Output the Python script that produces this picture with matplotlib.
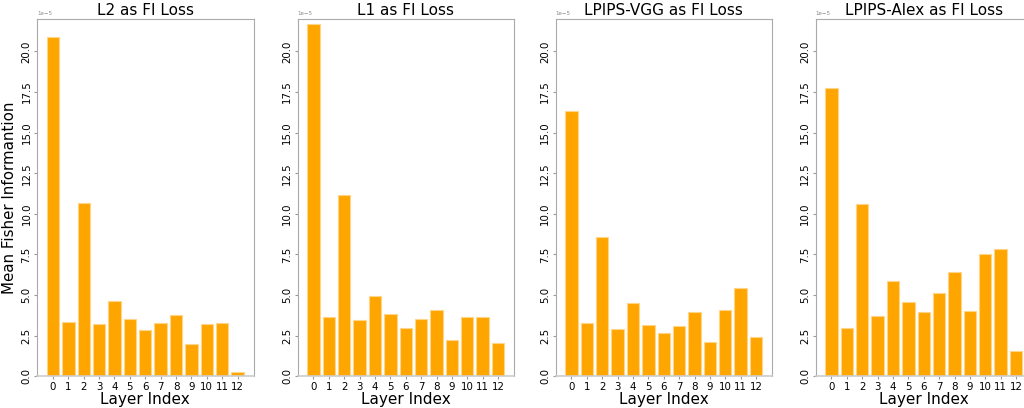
import numpy as np
import matplotlib
matplotlib.use("Agg")
import matplotlib.pyplot as plt

# 各层平均 Fisher 信息 (单位 1e-5)
layers = list(range(13))
titles = ["L2 as FI Loss", "L1 as FI Loss", "LPIPS-VGG as FI Loss", "LPIPS-Alex as FI Loss"]
fi_l2 = [20.88, 3.36, 10.68, 3.22, 4.66, 3.55, 2.87, 3.26, 3.78, 1.99, 3.20, 3.28, 0.27]
fi_l1 = [21.72, 3.65, 11.16, 3.45, 4.94, 3.84, 2.97, 3.53, 4.08, 2.24, 3.65, 3.67, 2.07]
fi_vgg = [16.31, 3.30, 8.55, 2.89, 4.51, 3.16, 2.69, 3.12, 3.98, 2.09, 4.06, 5.42, 2.42]
fi_alex = [17.74, 2.99, 10.63, 3.73, 5.85, 4.55, 3.98, 5.11, 6.42, 4.04, 7.55, 7.86, 1.56]
series = [fi_l2, fi_l1, fi_vgg, fi_alex]

fig = plt.figure(figsize=(10.24, 4.08), dpi=100)
W, H = 1024, 408
lefts = [37, 297.5, 555.5, 815.5]
ax_w = 216.5
top_px, bot_px = 19, 376.3

for i, (vals, title) in enumerate(zip(series, titles)):
    ax = fig.add_axes([lefts[i] / W, 1 - bot_px / H, ax_w / W, (bot_px - top_px) / H])
    ax.bar(layers, np.array(vals) * 1e-5, width=0.8, color="orange",
           edgecolor="#ffd58a", linewidth=0.8)
    ax.set_ylim(0, 22.0e-5)
    ax.set_xticks(layers)
    ax.set_xticklabels([str(l) for l in layers])
    ax.ticklabel_format(axis="y", style="sci", scilimits=(-5, -5))
    ax.set_title(title, fontsize=11, pad=3)
    ax.set_xlabel("Layer Index", fontsize=11, labelpad=0)
    if i == 0:
        ax.set_ylabel("Mean Fisher Informantion", fontsize=10.8, labelpad=3)
    ax.tick_params(axis="both", labelsize=7.4, length=2, color="#999999", pad=2)
    ax.tick_params(axis="y", labelrotation=90)
    for lab in ax.get_yticklabels():
        lab.set_va("center")
    for s in ax.spines.values():
        s.set_color("#aaaaaa")
    ax.spines["bottom"].set_color("#cccccc")
    ax.spines["bottom"].set_linewidth(1.2)
    ax.yaxis.get_offset_text().set_fontsize(4)
    ax.yaxis.get_offset_text().set_color("#888888")

fig.savefig("out.png", dpi=100)
